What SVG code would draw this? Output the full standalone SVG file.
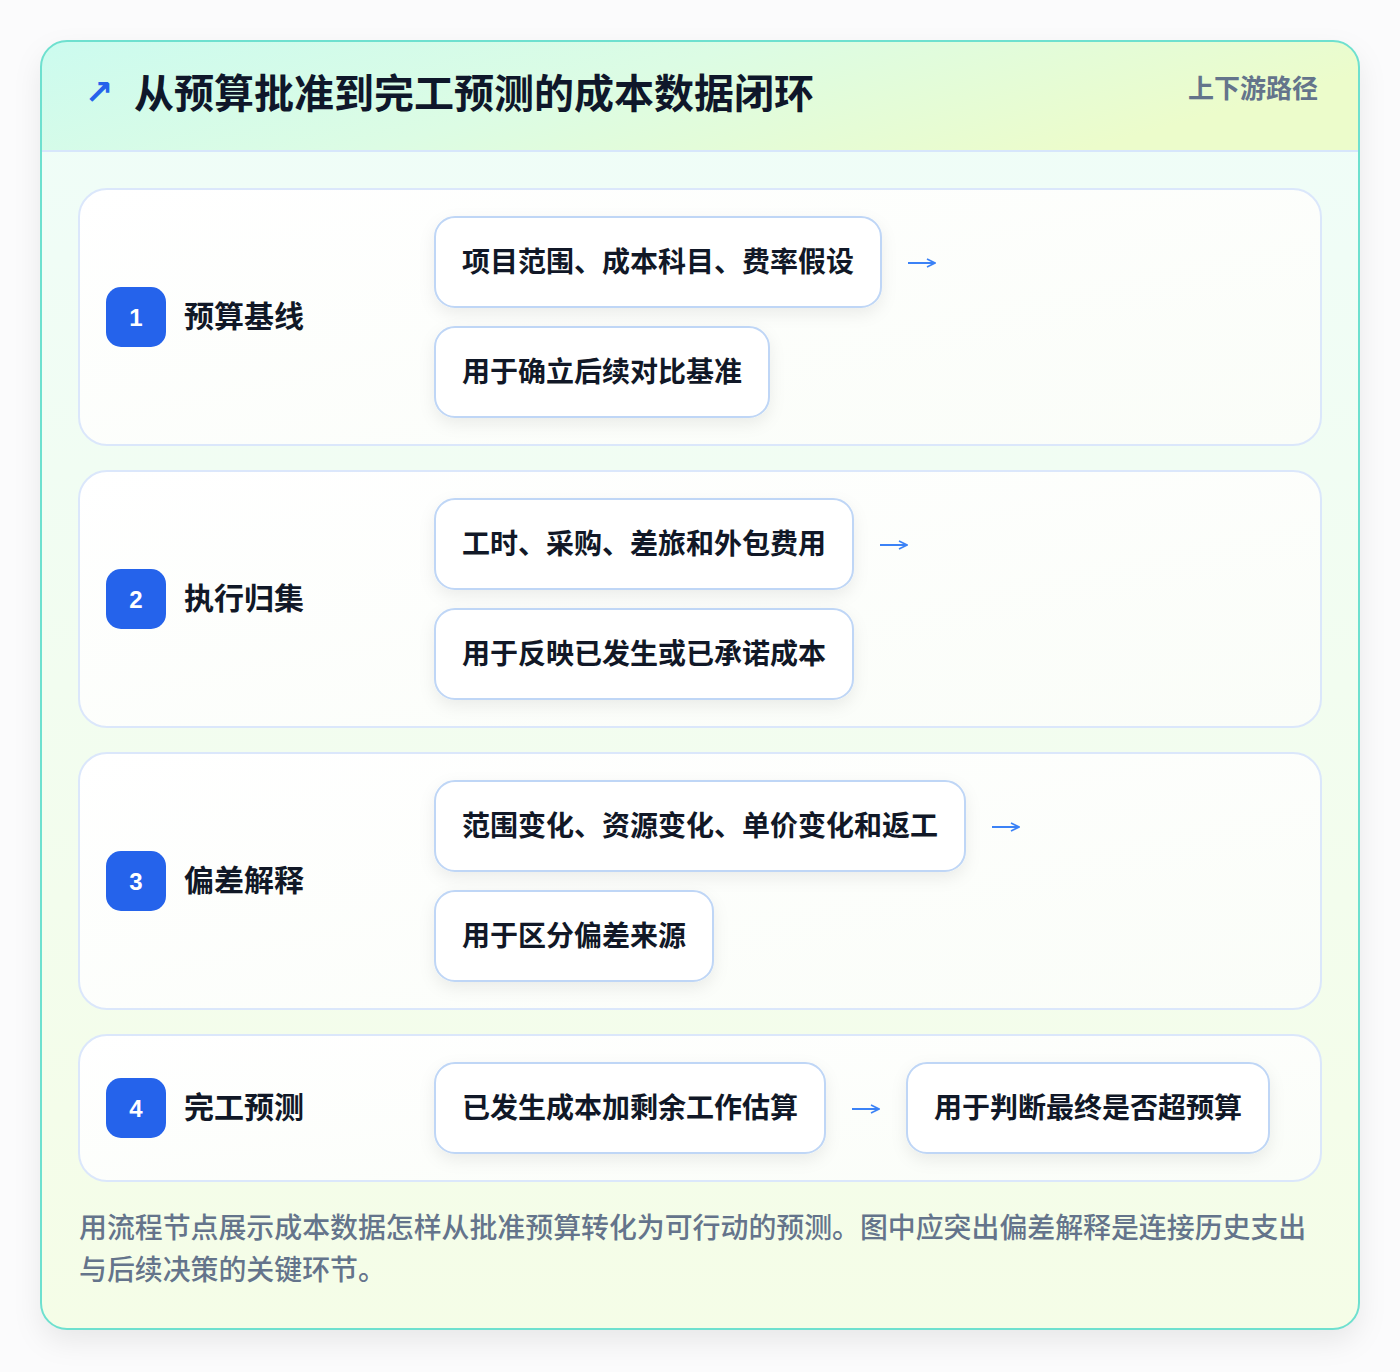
<svg xmlns="http://www.w3.org/2000/svg" width="1400" height="1372" viewBox="0 0 1400 1372">
<defs>
<linearGradient id="hdr" x1="0" y1="0" x2="1" y2="0.3">
<stop offset="0" stop-color="#ccfbef"/>
<stop offset="0.5" stop-color="#dcfce4"/>
<stop offset="1" stop-color="#ecfccb"/>
</linearGradient>
<linearGradient id="body" x1="0" y1="0" x2="0" y2="1">
<stop offset="0" stop-color="#effdf9"/>
<stop offset="1" stop-color="#f5fde7"/>
</linearGradient>
<linearGradient id="panel" x1="0" y1="0" x2="1" y2="1">
<stop offset="0" stop-color="#ffffff"/>
<stop offset="1" stop-color="#fafdf8"/>
</linearGradient>
<filter id="cardShadow" x="-10%" y="-10%" width="120%" height="120%">
<feDropShadow dx="0" dy="12" stdDeviation="14" flood-color="#0f172a" flood-opacity="0.08"/>
</filter>
<filter id="chipShadow" x="-20%" y="-30%" width="140%" height="170%">
<feDropShadow dx="0" dy="6" stdDeviation="8" flood-color="#0f172a" flood-opacity="0.07"/>
</filter>
<clipPath id="cardClip"><rect x="41" y="41" width="1318" height="1288" rx="26"/></clipPath>
<marker id="ah" viewBox="0 0 10 10" refX="9" refY="5" markerWidth="10" markerHeight="10" markerUnits="userSpaceOnUse" orient="auto">
<path d="M1,1 L9,5 L1,9" fill="none" stroke="#3b82f6" stroke-width="1.6" stroke-linejoin="miter"/>
</marker>
</defs>
<style>
.cjk{font-family:"Noto Sans CJK SC","Noto Sans",sans-serif}
.panel{fill:url(#panel);stroke:#dbe7fb;stroke-width:2}
.chip{fill:#ffffff;stroke:#bfd6f6;stroke-width:2;filter:url(#chipShadow)}
.chipt{font-family:"Noto Sans CJK SC","Noto Sans",sans-serif;font-size:28px;font-weight:700;fill:#111827;dominant-baseline:central}
.badge{fill:#2563eb}
.num{font-family:"Liberation Sans","Noto Sans",sans-serif;font-size:24px;font-weight:700;fill:#ffffff;text-anchor:middle;dominant-baseline:central}
.lbl{font-family:"Noto Sans CJK SC","Noto Sans",sans-serif;font-size:30px;font-weight:700;fill:#111827;dominant-baseline:central}
.arr{fill:none;stroke:#3b82f6;stroke-width:2;marker-end:url(#ah)}
.foot{font-family:"Noto Sans CJK SC","Noto Sans",sans-serif;font-size:27.9px;font-weight:500;fill:#64748b}
</style>
<rect x="0" y="0" width="1400" height="1372" fill="#fbfbfc"/>
<g id="card">
<rect x="41" y="41" width="1318" height="1288" rx="26" fill="url(#body)" filter="url(#cardShadow)"/>
<g clip-path="url(#cardClip)">
<rect x="41" y="41" width="1318" height="110" fill="url(#hdr)"/>
<line x1="41" y1="151" x2="1359" y2="151" stroke="#d7e6fb" stroke-width="2"/>
</g>
<rect x="41" y="41" width="1318" height="1288" rx="26" fill="none" stroke="#6ee0cf" stroke-width="2"/>
</g>
<g id="header">
<text x="99" y="92" font-size="34" font-weight="700" fill="#2563eb" text-anchor="middle" dominant-baseline="central" font-family="DejaVu Sans, sans-serif">↗</text>
<text class="cjk" x="134" y="91" font-size="40" font-weight="700" fill="#0f172a" dominant-baseline="central">从预算批准到完工预测的成本数据闭环</text>
<text class="cjk" x="1318" y="86" font-size="26" font-weight="600" fill="#64748b" text-anchor="end" dominant-baseline="central">上下游路径</text>
</g>
<g id="step1">
<rect class="panel" x="79" y="189" width="1242" height="256" rx="28"/>
<rect class="badge" x="106" y="287" width="60" height="60" rx="15"/>
<text class="num" x="136" y="317">1</text>
<text class="lbl" x="184" y="314">预算基线</text>
</g>
<g id="step1-a"><rect class="chip" x="435" y="217" width="446" height="90" rx="20"/><text class="chipt" x="462" y="260">项目范围、成本科目、费率假设</text></g>
<g id="step1-b"><rect class="chip" x="435" y="327" width="334" height="90" rx="20"/><text class="chipt" x="462" y="370">用于确立后续对比基准</text></g>
<g id="step2">
<rect class="panel" x="79" y="471" width="1242" height="256" rx="28"/>
<rect class="badge" x="106" y="569" width="60" height="60" rx="15"/>
<text class="num" x="136" y="599">2</text>
<text class="lbl" x="184" y="596">执行归集</text>
</g>
<g id="step2-a"><rect class="chip" x="435" y="499" width="418" height="90" rx="20"/><text class="chipt" x="462" y="542">工时、采购、差旅和外包费用</text></g>
<g id="step2-b"><rect class="chip" x="435" y="609" width="418" height="90" rx="20"/><text class="chipt" x="462" y="652">用于反映已发生或已承诺成本</text></g>
<g id="step3">
<rect class="panel" x="79" y="753" width="1242" height="256" rx="28"/>
<rect class="badge" x="106" y="851" width="60" height="60" rx="15"/>
<text class="num" x="136" y="881">3</text>
<text class="lbl" x="184" y="878">偏差解释</text>
</g>
<g id="step3-a"><rect class="chip" x="435" y="781" width="530" height="90" rx="20"/><text class="chipt" x="462" y="824">范围变化、资源变化、单价变化和返工</text></g>
<g id="step3-b"><rect class="chip" x="435" y="891" width="278" height="90" rx="20"/><text class="chipt" x="462" y="934">用于区分偏差来源</text></g>
<g id="step4">
<rect class="panel" x="79" y="1035" width="1242" height="146" rx="28"/>
<rect class="badge" x="106" y="1078" width="60" height="60" rx="15"/>
<text class="num" x="136" y="1108">4</text>
<text class="lbl" x="184" y="1105">完工预测</text>
</g>
<g id="step4-a"><rect class="chip" x="435" y="1063" width="390" height="90" rx="20"/><text class="chipt" x="462" y="1106">已发生成本加剩余工作估算</text></g>
<g id="step4-b"><rect class="chip" x="907" y="1063" width="362" height="90" rx="20"/><text class="chipt" x="934" y="1106">用于判断最终是否超预算</text></g>
<g id="connectors">
<path class="arr" d="M908,263 H935"/>
<path class="arr" d="M880,545 H907"/>
<path class="arr" d="M992,827 H1019"/>
<path class="arr" d="M852,1109 H879"/>
</g>
<g id="footer">
<text class="foot" x="79" y="1238">用流程节点展示成本数据怎样从批准预算转化为可行动的预测。图中应突出偏差解释是连接历史支出</text>
<text class="foot" x="79" y="1280">与后续决策的关键环节。</text>
</g>
</svg>
